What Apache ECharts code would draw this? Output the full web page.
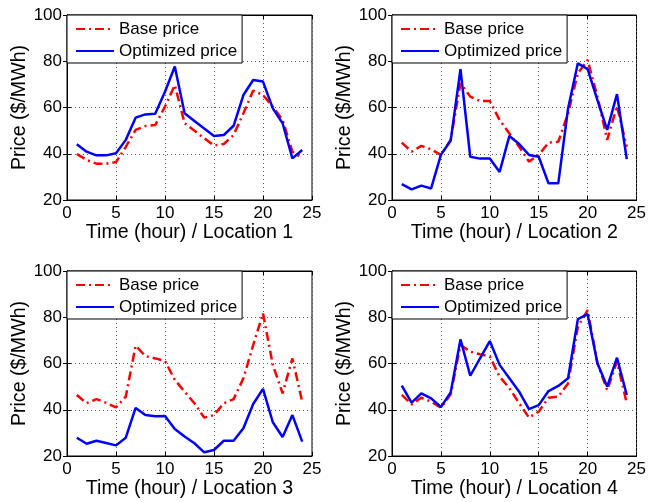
<!DOCTYPE html>
<html>
<head>
<meta charset="utf-8">
<title>Price by location</title>
<script src="https://cdn.jsdelivr.net/npm/echarts@6/dist/echarts.min.js"></script>
<style>
    html, body { margin: 0; padding: 0; background: #fff; }
    #main { width: 649px; height: 502px; }
</style>
</head>
<body>
<div id="main"></div>
<script>
// hours on x axis
var hours = [1, 2, 3, 4, 5, 6, 7, 8, 9, 10, 11, 12, 13, 14, 15, 16, 17, 18, 19, 20, 21, 22, 23, 24];

// location 1
var base1 = [39.9, 37.3, 35.7, 35.7, 36.4, 43, 50.3, 52, 52.4, 60.4, 69.7, 53.2, 50, 46.7, 43.6, 44.2, 48.1, 57.5, 67.3, 65.4, 60.4, 54.6, 40.9, 38];
var opt1 = [44.1, 40.9, 39.3, 39.3, 40.2, 46, 55.6, 57, 57.3, 66.8, 77.7, 57.5, 54.2, 50.9, 47.7, 48.1, 52.1, 65.4, 71.9, 71.2, 59.6, 53.2, 38, 41.6];
// location 2
var base2 = [44.8, 40.9, 43.4, 41.9, 39.5, 46, 70.5, 64.7, 62.8, 62.8, 54.6, 48.8, 43, 36.6, 39.5, 44.8, 45.2, 57.5, 74.8, 80.5, 64.7, 46, 60.6, 43];
var opt2 = [26.9, 24.6, 26.2, 25, 39.5, 45.7, 76.6, 38.7, 37.9, 37.9, 32.1, 47.7, 44.2, 39.5, 38.7, 27.2, 27.2, 59.6, 79.1, 76.6, 63.2, 50.3, 65.8, 37.7];
// location 3
var base3 = [46.4, 42.8, 44.6, 43, 41, 45.7, 67.7, 63.2, 62.2, 61.1, 52.9, 47.8, 42.8, 36.6, 37.7, 42.8, 44.6, 53.6, 68, 81.7, 59.4, 47.1, 62.2, 43.5];
var opt3 = [27.9, 25.3, 26.6, 25.6, 24.6, 27.9, 40.8, 37.7, 37.2, 37.3, 31.7, 28.4, 25.5, 21.6, 22.6, 26.6, 26.6, 32, 42.5, 49, 34.6, 28.2, 37.7, 26.2];
// location 4
var base4 = [46.4, 42.3, 45.2, 43.5, 40.9, 46.7, 68, 65.1, 64, 63, 54.3, 49.3, 42.8, 36.6, 39.2, 45.2, 45.7, 51.4, 75.9, 83.1, 60.1, 48.5, 60.8, 42.8];
var opt4 = [50.4, 43.1, 47.1, 44.9, 41.2, 47.5, 70.4, 54.7, 62.2, 69.7, 59.4, 53.6, 47.8, 40.3, 42, 48.1, 50.3, 53.6, 79.2, 81.3, 60.1, 50, 62.5, 46.4];

var baseList = [base1, base2, base3, base4];
var optList = [opt1, opt2, opt3, opt4];
var locations = ['Location 1', 'Location 2', 'Location 3', 'Location 4'];

// axis ticks
var xMin = 0, xMax = 25, xStep = 5;
var yMin = 20, yMax = 100, yStep = 20;

var FONT = '"Liberation Sans", Arial, sans-serif';

var chart = {
    // grid boxes (px)
    boxes: [
        {left: 67, top: 15},
        {left: 392, top: 15},
        {left: 67, top: 271},
        {left: 392, top: 271}
    ],
    pairs: function(vals) {
        return hours.map(function(h, i) { return [h, vals[i]]; });
    },
    build: function() {
        var grid = [], xAxis = [], yAxis = [], series = [], legend = [];
        chart.boxes.forEach(function(b, i) {
            grid.push({
                left: b.left, top: b.top, width: 245, height: 185,
                show: true, borderColor: '#000', borderWidth: 1, backgroundColor: '#fff'
            });
            // bottom x axis with labels
            xAxis.push({
                gridIndex: i, type: 'value', position: 'bottom',
                min: xMin, max: xMax, interval: xStep,
                name: 'Time (hour) / ' + locations[i],
                nameLocation: 'middle', nameGap: 21,
                nameTextStyle: {fontFamily: FONT, fontSize: 19.6, color: '#000'},
                axisLine: {lineStyle: {color: '#000', width: 1}},
                axisTick: {inside: true, length: 4, lineStyle: {color: '#000'}},
                axisLabel: {fontFamily: FONT, fontSize: 17, color: '#000', margin: 5},
                splitLine: {show: true, lineStyle: {color: '#555', type: [1, 3], width: 1}}
            });
            // top x axis, ticks only
            xAxis.push({
                gridIndex: i, type: 'value', position: 'top',
                min: xMin, max: xMax, interval: xStep,
                axisLine: {lineStyle: {color: '#000', width: 1}},
                axisTick: {inside: true, length: 4, lineStyle: {color: '#000'}},
                axisLabel: {show: false},
                splitLine: {show: false}
            });
            yAxis.push({
                gridIndex: i, type: 'value', position: 'left',
                min: yMin, max: yMax, interval: yStep,
                name: 'Price ($/MWh)',
                nameLocation: 'middle', nameGap: 37,
                nameTextStyle: {fontFamily: FONT, fontSize: 19.6, color: '#000'},
                axisLine: {show: true, lineStyle: {color: '#000', width: 1}},
                axisTick: {show: true, inside: true, length: 4, lineStyle: {color: '#000'}},
                axisLabel: {fontFamily: FONT, fontSize: 17, color: '#000', margin: 5},
                splitLine: {show: true, lineStyle: {color: '#555', type: [1, 3], width: 1}}
            });
            yAxis.push({
                gridIndex: i, type: 'value', position: 'right',
                min: yMin, max: yMax, interval: yStep,
                axisLine: {show: true, lineStyle: {color: '#000', width: 1}},
                axisTick: {show: true, inside: true, length: 4, lineStyle: {color: '#000'}},
                axisLabel: {show: false},
                splitLine: {show: false}
            });
            series.push({
                name: 'Base price', type: 'line',
                xAxisIndex: 2 * i, yAxisIndex: 2 * i,
                data: chart.pairs(baseList[i]),
                symbol: 'none', animation: false, z: 3,
                lineStyle: {color: '#ff0000', width: 2.5, type: [9, 4, 2, 4]},
                itemStyle: {color: '#ff0000'}
            });
            series.push({
                name: 'Optimized price', type: 'line',
                xAxisIndex: 2 * i, yAxisIndex: 2 * i,
                data: chart.pairs(optList[i]),
                symbol: 'none', animation: false, z: 4,
                lineStyle: {color: '#0000ff', width: 2.5, type: 'solid'},
                itemStyle: {color: '#0000ff'}
            });
            legend.push({
                left: b.left, top: b.top,
                orient: 'vertical',
                data: ['Base price', 'Optimized price'],
                itemWidth: 38, itemHeight: 20, itemGap: 2,
                padding: [4, 5, 2, 8],
                backgroundColor: '#fff', borderColor: '#000', borderWidth: 1, borderRadius: 0,
                selectedMode: false, z: 10,
                // hide the marker dot, keep the line sample
                itemStyle: {opacity: 0},
                textStyle: {fontFamily: FONT, fontSize: 17, color: '#000', lineHeight: 20}
            });
        });
        return {
            backgroundColor: '#fff',
            animation: false,
            grid: grid, xAxis: xAxis, yAxis: yAxis,
            legend: legend, series: series
        };
    },
    show: function() {
        var myChart = echarts.init(document.getElementById('main'));
        myChart.setOption(chart.build());
    }
};

chart.show();
</script>
</body>
</html>
